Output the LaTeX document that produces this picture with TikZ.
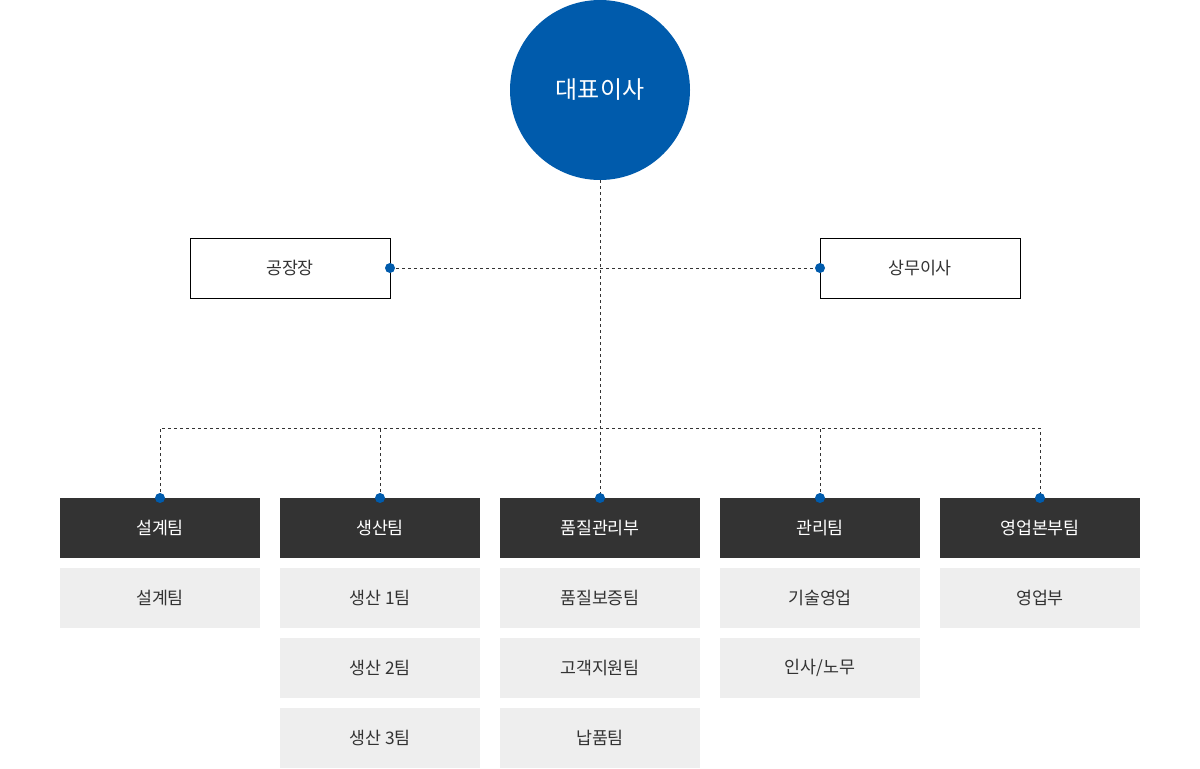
\documentclass[tikz,border=0pt]{standalone}
\usepackage{fontspec}
\setmainfont{Noto Sans CJK KR}[RawFeature=+palt]
\usepackage{tikz}
\usetikzlibrary{positioning}
\definecolor{ceoblue}{HTML}{005BAC}
\definecolor{darkgrey}{HTML}{333333}
\definecolor{palegrey}{HTML}{EEEEEE}

\begin{document}
\begin{tikzpicture}[
  x=0.75pt, y=0.75pt,
  font=\fontsize{13}{15}\selectfont,
  ceo/.style={circle, fill=ceoblue, text=white, minimum size=135pt, inner sep=0pt, font=\fontsize{18}{20}\selectfont},
  exec/.style={draw=black, line width=0.75pt, fill=white, text=darkgrey, minimum width=150pt, minimum height=45pt, inner sep=0pt, outer sep=0pt},
  dept/.style={fill=darkgrey, text=white, minimum width=150pt, minimum height=45pt, inner sep=0pt, outer sep=0pt},
  team/.style={fill=palegrey, text=darkgrey, minimum width=150pt, minimum height=45pt, inner sep=0pt, outer sep=0pt},
  link/.style={draw=darkgrey, line width=0.75pt, dash pattern=on 2.25pt off 2.25pt},
  dot/.style={circle, fill=ceoblue, minimum size=7.5pt, inner sep=0pt}
]
\useasboundingbox (0,0) rectangle (1200,-768);

\node[ceo] (ceo) at (600,-90) {대표이사};
\node[exec] (plant) at (290,-268) {공장장};
\node[exec] (md) at (920,-268) {상무이사};

% departments
\node[dept] (design) at (160,-528) {설계팀};
\node[dept, right=15pt of design] (prod) {생산팀};
\node[dept, right=15pt of prod] (quality) {품질관리부};
\node[dept, right=15pt of quality] (admin) {관리팀};
\node[dept, right=15pt of admin] (sales) {영업본부팀};

% teams
\node[team, below=7.5pt of design] (design1) {설계팀};
\node[team, below=7.5pt of prod] (prod1) {생산 1팀};
\node[team, below=7.5pt of prod1] (prod2) {생산 2팀};
\node[team, below=7.5pt of prod2] (prod3) {생산 3팀};
\node[team, below=7.5pt of quality] (qa1) {품질보증팀};
\node[team, below=7.5pt of qa1] (qa2) {고객지원팀};
\node[team, below=7.5pt of qa2] (qa3) {납품팀};
\node[team, below=7.5pt of admin] (admin1) {기술영업};
\node[team, below=7.5pt of admin1] (admin2) {인사/노무};
\node[team, below=7.5pt of sales] (sales1) {영업부};

\coordinate (hub) at (600,-428);

\draw[link] (ceo.south) -- (quality.north);
\draw[link] (plant.east) -- (md.west);
\draw[link] (design.north) |- (hub) -| (sales.north);
\foreach \d in {prod, admin}
  \draw[link] (\d.north) -- (\d.north |- hub);

\foreach \p in {plant.east, md.west, design.north, prod.north, quality.north, admin.north, sales.north}
  \node[dot] at (\p) {};
\end{tikzpicture}
\end{document}
